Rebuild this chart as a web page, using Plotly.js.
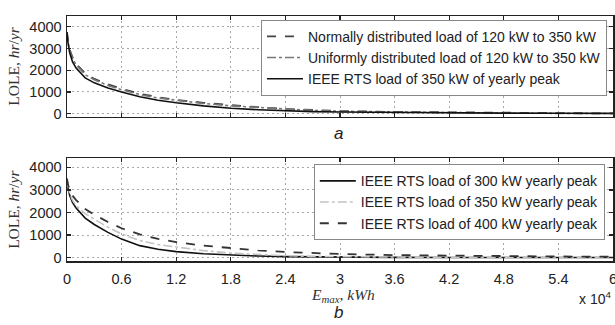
<!DOCTYPE html>
<html>
<head>
<meta charset="utf-8">
<script src="https://cdn.plot.ly/plotly-3.0.1.min.js"></script>
<style>html,body{margin:0;padding:0;background:#fff;}#chart{width:615px;height:325px;}</style>
</head>
<body>
<div id="chart"></div>
<script>
// Energy capacity E_max (kWh)
const xEmax = [0, 100, 300, 600, 1000, 2000, 3000, 4500, 6000, 8000, 10000, 12000, 15000, 18000, 21000, 24000, 27000, 30000, 36000, 42000, 48000, 54000, 60000];

// Panel a
const lole_normal_120_350 = [3750, 3350, 2950, 2600, 2300, 1850, 1600, 1350, 1150, 920, 760, 640, 500, 390, 300, 220, 160, 120, 80, 55, 30, 15, 10];
const lole_uniform_120_350 = [3750, 3350, 2900, 2550, 2250, 1800, 1560, 1300, 1100, 880, 720, 610, 470, 360, 280, 200, 150, 110, 70, 40, 25, 15, 10];
const lole_ieee_350_a = [3750, 3300, 2800, 2400, 2100, 1650, 1420, 1180, 1000, 780, 620, 500, 360, 250, 180, 125, 95, 75, 50, 35, 25, 20, 15];

// Panel b
const lole_ieee_300 = [3500, 3100, 2750, 2450, 2200, 1750, 1470, 1120, 820, 530, 370, 265, 170, 105, 70, 45, 30, 20, 12, 8, 5, 4, 3];
const lole_ieee_350_b = [3500, 3150, 2850, 2550, 2300, 1950, 1700, 1350, 1050, 760, 580, 460, 310, 200, 130, 85, 55, 40, 25, 15, 10, 8, 5];
const lole_ieee_400 = [3500, 3250, 3000, 2750, 2550, 2150, 1900, 1580, 1300, 1030, 830, 690, 530, 410, 320, 250, 200, 160, 110, 80, 60, 50, 40];

const namesA = ["Normally distributed load of 120 kW to 350 kW", "Uniformly distributed load of 120 kW to 350 kW", "IEEE RTS load of 350 kW of yearly peak"];
const namesB = ["IEEE RTS load of 300 kW yearly peak", "IEEE RTS load of 350 kW yearly peak", "IEEE RTS load of 400 kW yearly peak"];

const xTickVals = [0, 6000, 12000, 18000, 24000, 30000, 36000, 42000, 48000, 54000, 60000];
const xTickText = ["0", "0.6", "1.2", "1.8", "2.4", "3", "3.6", "4.2", "4.8", "5.4", "6"];
const yTickVals = [0, 1000, 2000, 3000, 4000];

const traces = [
  {x: xEmax, y: lole_normal_120_350, name: namesA[0], xaxis: "x", yaxis: "y", legend: "legend",
   mode: "lines", line: {color: "#444", width: 1.8, dash: "dash"}},
  {x: xEmax, y: lole_uniform_120_350, name: namesA[1], xaxis: "x", yaxis: "y", legend: "legend",
   mode: "lines", line: {color: "#777", width: 1.6, dash: "dashdot"}},
  {x: xEmax, y: lole_ieee_350_a, name: namesA[2], xaxis: "x", yaxis: "y", legend: "legend",
   mode: "lines", line: {color: "#111", width: 1.6}},
  {x: xEmax, y: lole_ieee_300, name: namesB[0], xaxis: "x2", yaxis: "y2", legend: "legend2",
   mode: "lines", line: {color: "#111", width: 1.6}},
  {x: xEmax, y: lole_ieee_350_b, name: namesB[1], xaxis: "x2", yaxis: "y2", legend: "legend2",
   mode: "lines", line: {color: "#c4c4c4", width: 1.6, dash: "dashdot"}},
  {x: xEmax, y: lole_ieee_400, name: namesB[2], xaxis: "x2", yaxis: "y2", legend: "legend2",
   mode: "lines", line: {color: "#333", width: 1.8, dash: "dash"}}
];

const tickFont = {family: "Liberation Sans, Arial, sans-serif", size: 14.5, color: "#222"};
const axisCommon = {
  showline: true, mirror: "allticks", linecolor: "#222", linewidth: 1.5,
  ticks: "inside", ticklen: 4, tickcolor: "#222", tickwidth: 1.2,
  showgrid: true, gridcolor: "#a8a8a8", gridwidth: 1, griddash: "2px,3px",
  zeroline: false, tickfont: tickFont, ticklabeloverflow: "allow"
};
const yTitle = {text: "LOLE, <i>hr</i>/<i>yr</i>", font: {family: "Liberation Serif, Times New Roman, serif", size: 15.5, color: "#333"}, standoff: 6};
const legendFont = {family: "Liberation Sans, Arial, sans-serif", size: 14, color: "#222"};

const layout = {
  width: 615, height: 325,
  margin: {l: 67, r: 2, t: 16, b: 64},
  paper_bgcolor: "#fff", plot_bgcolor: "#fff",
  font: {family: "Liberation Sans, Arial, sans-serif", color: "#222"},
  xaxis: Object.assign({}, axisCommon, {domain: [0, 1], anchor: "y", range: [0, 60000],
    tickvals: xTickVals, ticktext: xTickText, showticklabels: false}),
  yaxis: Object.assign({}, axisCommon, {domain: [0.588, 1], anchor: "x", range: [-150, 4500],
    tickvals: yTickVals, title: yTitle, ticklabelstandoff: 1}),
  xaxis2: Object.assign({}, axisCommon, {domain: [0, 1], anchor: "y2", range: [0, 60000],
    tickvals: xTickVals, ticktext: xTickText, ticklabelstandoff: 4}),
  yaxis2: Object.assign({}, axisCommon, {domain: [0, 0.419], anchor: "x2", range: [-150, 4400],
    tickvals: yTickVals, title: yTitle, ticklabelstandoff: 1}),
  legend: {x: 0.989, xanchor: "right", y: 0.985, yanchor: "top", bgcolor: "#fff",
    bordercolor: "#888", borderwidth: 1, font: legendFont, tracegroupgap: 0, itemwidth: 36},
  legend2: {x: 0.985, xanchor: "right", y: 0.395, yanchor: "top", bgcolor: "#fff",
    bordercolor: "#888", borderwidth: 1, font: legendFont, tracegroupgap: 0, itemwidth: 36},
  showlegend: true,
  annotations: [
    {xref: "paper", yref: "paper", x: 0.497, y: (261 - 133) / 245, yanchor: "middle", text: "<i>a</i>", showarrow: false,
     font: {family: "Liberation Sans, Arial, sans-serif", size: 17, color: "#222"}},
    {xref: "paper", yref: "paper", x: 0.497, y: (261 - 312) / 245, yanchor: "middle", text: "<i>b</i>", showarrow: false,
     font: {family: "Liberation Sans, Arial, sans-serif", size: 17, color: "#222"}},
    {xref: "paper", yref: "paper", x: (343 - 67) / 546, y: (261 - 295) / 245, yanchor: "middle",
     text: "<i>E<sub>max</sub></i>, <i>kWh</i>", showarrow: false,
     font: {family: "Liberation Serif, Times New Roman, serif", size: 15.5, color: "#333"}},
    {xref: "paper", yref: "paper", x: 1, xanchor: "right", y: (261 - 298) / 245, yanchor: "middle",
     text: "x 10<sup>4</sup>", showarrow: false,
     font: {family: "Liberation Sans, Arial, sans-serif", size: 14, color: "#222"}}
  ]
};

Plotly.newPlot("chart", traces, layout, {staticPlot: true, displayModeBar: false});
</script>
</body>
</html>
